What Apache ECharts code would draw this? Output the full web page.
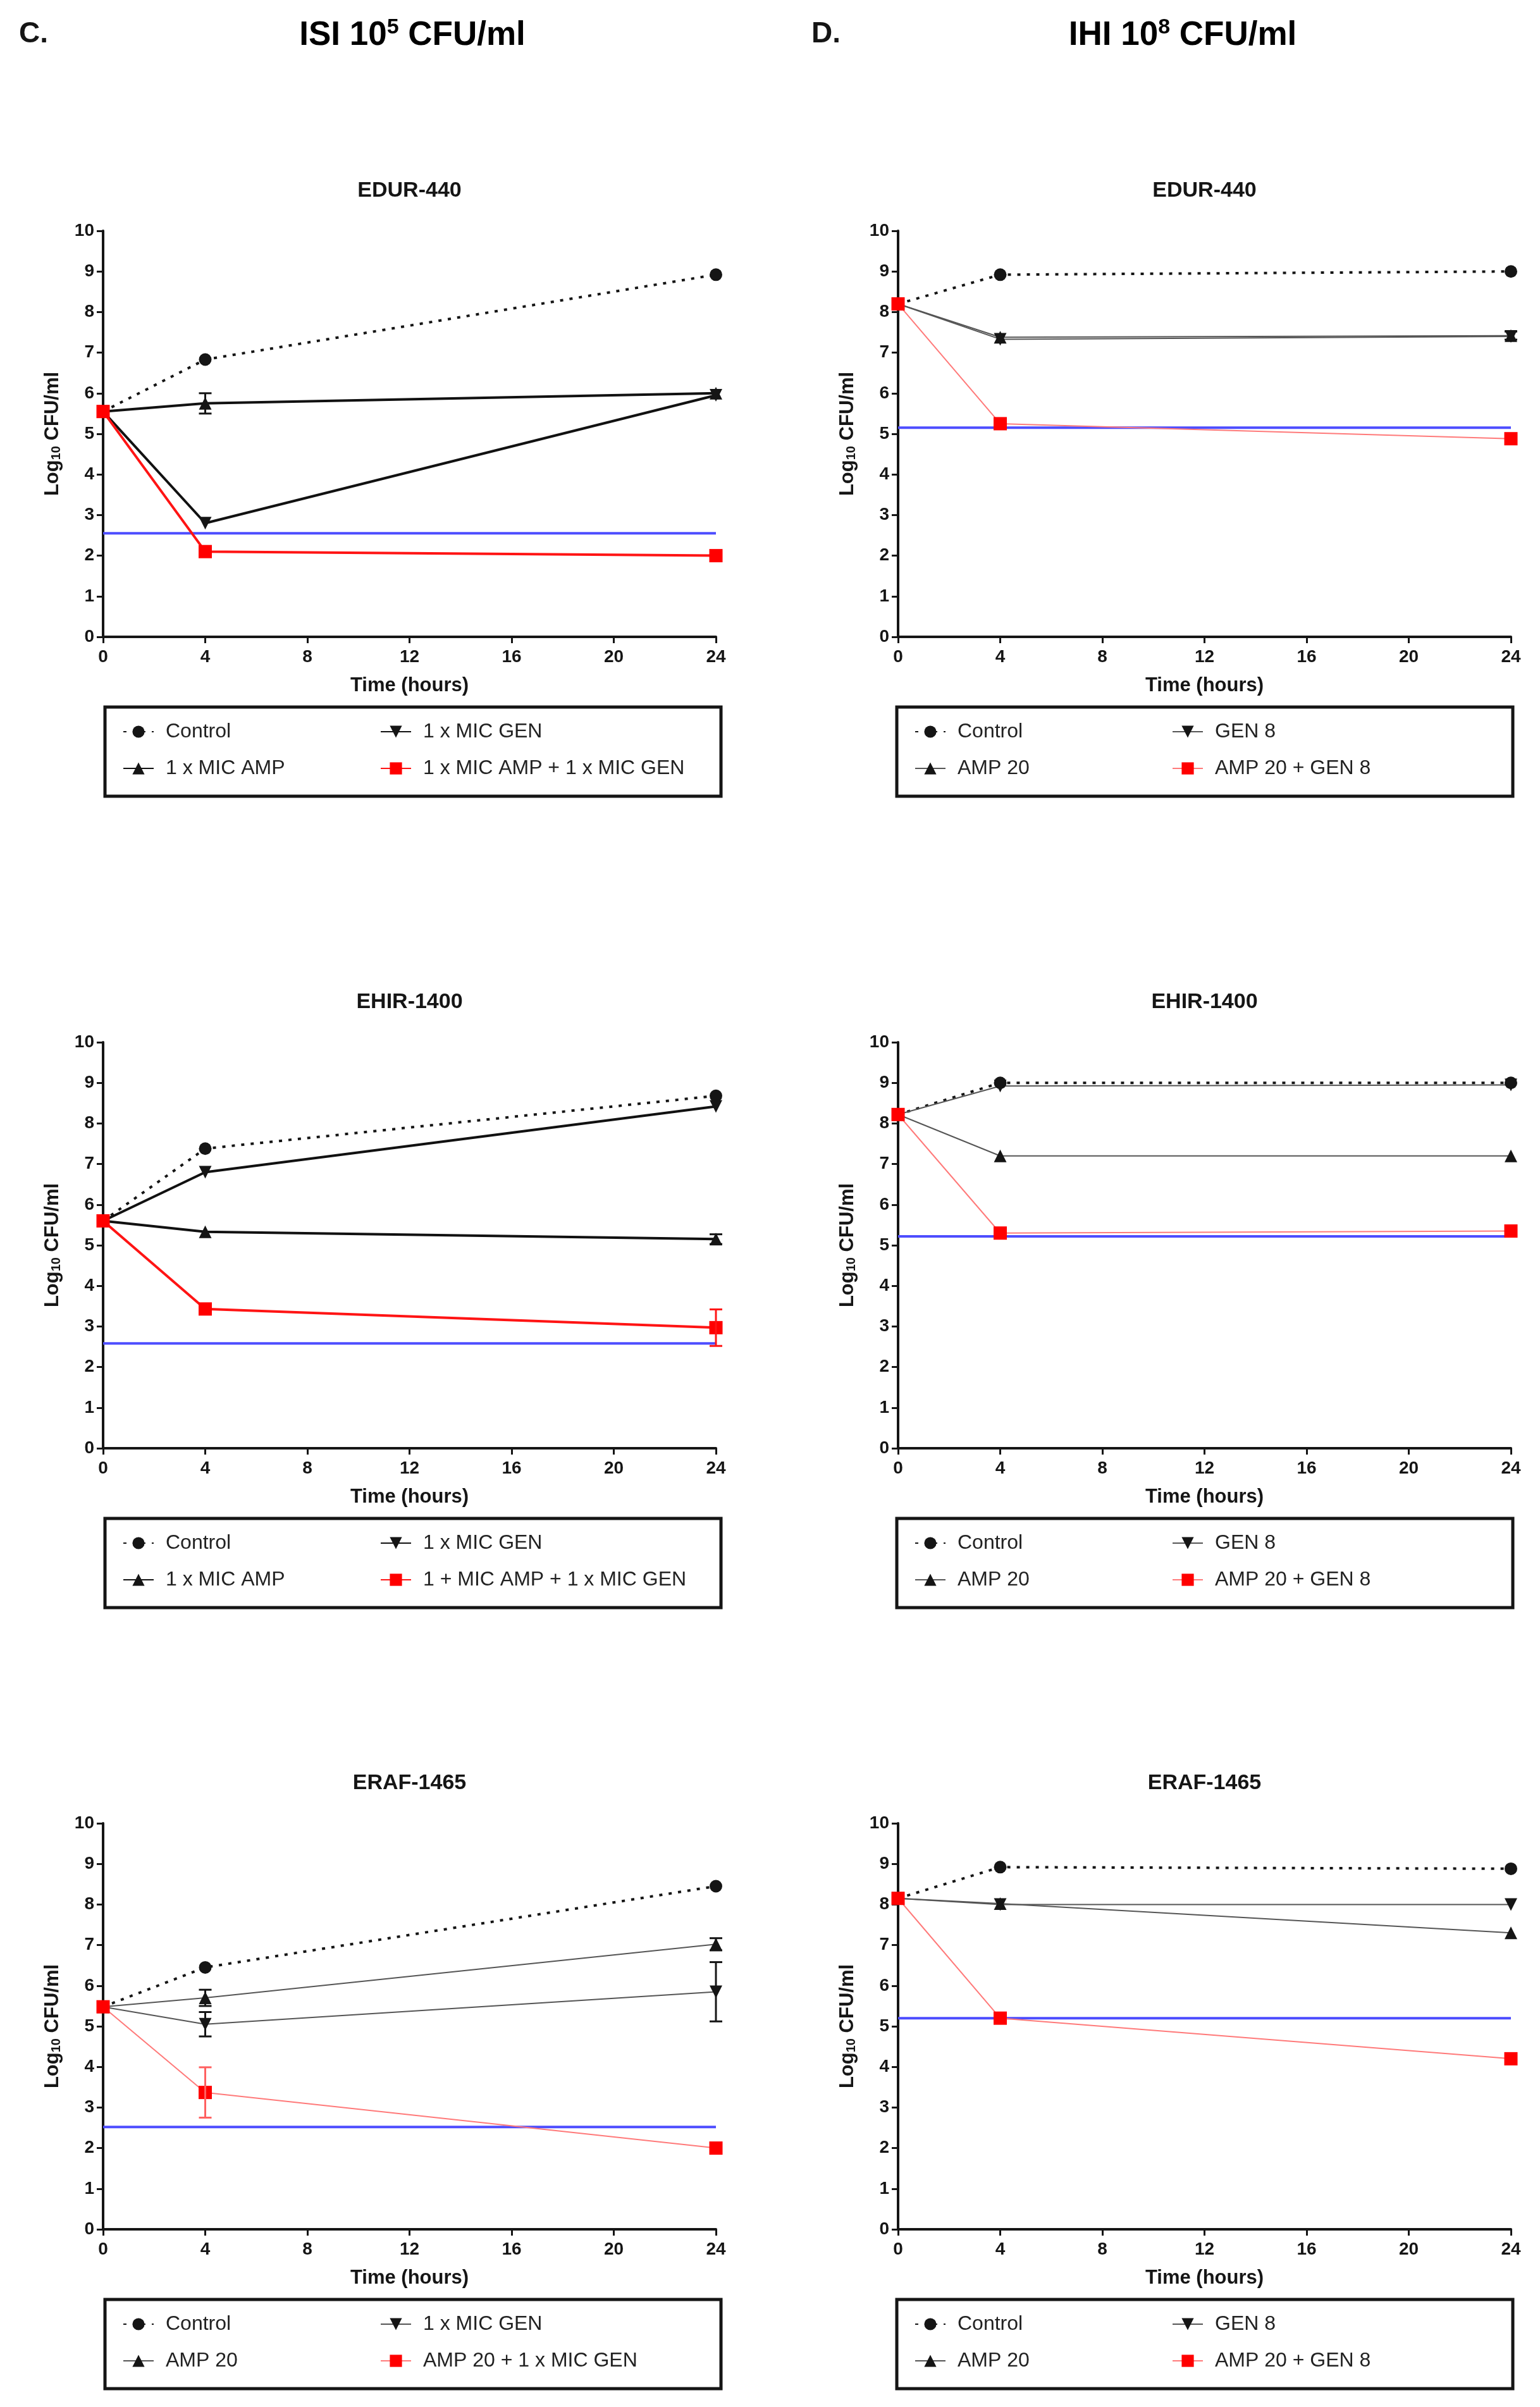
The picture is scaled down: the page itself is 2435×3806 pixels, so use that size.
<!DOCTYPE html>
<html lang="en">
<head>
<meta charset="UTF-8">
<title>Time-kill curves</title>
<script src="https://cdn.jsdelivr.net/npm/echarts@6/dist/echarts.min.js"></script>
<style>
    html, body {
        margin: 0;
        padding: 0;
        background: #fff;
    }
    #chart {
        width: 2435px;
        height: 3806px;
    }
</style>
</head>
<body>
<div id="chart"></div>
<script>
    // sampling times and strains
    var hours = [0, 4, 24];
    var strains = ['EDUR-440', 'EHIR-1400', 'ERAF-1465'];

    // C. ISI 10^5 CFU/ml  (one row per strain)
    var isiControl = [[5.55, 6.83, 8.92], [5.6, 7.38, 8.68], [5.48, 6.45, 8.45]];
    var isiAmp = [[5.55, 5.75, 6.0], [5.6, 5.33, 5.15], [5.48, 5.7, 7.02]];
    var isiAmpSem = [[0, 0.25, 0], [0, 0, 0.12], [0, 0.2, 0.15]];
    var isiGen = [[5.55, 2.8, 5.95], [5.6, 6.8, 8.42], [5.48, 5.05, 5.85]];
    var isiGenSem = [[0, 0, 0], [0, 0, 0], [0, 0.3, 0.73]];
    var isiCombo = [[5.55, 2.1, 2.0], [5.6, 3.43, 2.97], [5.48, 3.37, 2.0]];
    var isiComboSem = [[0, 0, 0], [0, 0, 0.45], [0, 0.62, 0]];
    var isiLod = [2.55, 2.58, 2.52];
    var isiNames = [
        ['Control', '1 x MIC AMP', '1 x MIC GEN', '1 x MIC AMP + 1 x MIC GEN'],
        ['Control', '1 x MIC AMP', '1 x MIC GEN', '1 + MIC AMP + 1 x MIC GEN'],
        ['Control', 'AMP 20', '1 x MIC GEN', 'AMP 20 + 1 x MIC GEN']
    ];

    // D. IHI 10^8 CFU/ml
    var ihiControl = [[8.2, 8.92, 9.0], [8.22, 9.0, 9.0], [8.15, 8.92, 8.88]];
    var ihiAmp = [[8.2, 7.38, 7.42], [8.22, 7.2, 7.2], [8.15, 8.02, 7.3]];
    var ihiAmpSem = [[0, 0, 0.1], [0, 0, 0], [0, 0, 0]];
    var ihiGen = [[8.2, 7.33, 7.4], [8.22, 8.92, 8.95], [8.15, 8.0, 8.0]];
    var ihiGenSem = [[0, 0, 0], [0, 0, 0], [0, 0, 0]];
    var ihiCombo = [[8.2, 5.25, 4.88], [8.22, 5.3, 5.35], [8.15, 5.2, 4.2]];
    var ihiComboSem = [[0, 0, 0], [0, 0, 0], [0, 0, 0]];
    var ihiLod = [5.15, 5.22, 5.2];
    var ihiNames = ['Control', 'AMP 20', 'GEN 8', 'AMP 20 + GEN 8'];

    var FONT = '"Liberation Sans", Arial, sans-serif';
    var INK = '#151515';
    var colLeft = [163, 1420];
    var rowTop = [365, 1648, 2883];
    var gw = 969, gh = 642;

    function pts(vals) {
        return hours.map(function (h, i) { return [h, vals[i]]; });
    }

    function errPts(vals, sem) {
        var out = [];
        hours.forEach(function (h, i) {
            if (sem[i] > 0) out.push([h, vals[i] - sem[i], vals[i] + sem[i]]);
        });
        return out;
    }

    function errRender(params, api) {
        var x = api.value(0);
        var lo = api.coord([x, api.value(1)]);
        var hi = api.coord([x, api.value(2)]);
        var cap = 10;
        var st = {stroke: api.visual('color'), lineWidth: 3};
        return {
            type: 'group',
            children: [
                {type: 'line', shape: {x1: lo[0], y1: lo[1], x2: hi[0], y2: hi[1]}, style: st},
                {type: 'line', shape: {x1: hi[0] - cap, y1: hi[1], x2: hi[0] + cap, y2: hi[1]}, style: st},
                {type: 'line', shape: {x1: lo[0] - cap, y1: lo[1], x2: lo[0] + cap, y2: lo[1]}, style: st}
            ]
        };
    }

    function buildOption() {
        var grids = [], xAxes = [], yAxes = [], series = [], legends = [], graphics = [];

        // column headers
        graphics.push({
            type: 'text', x: 30, y: 54,
            style: {text: 'C.', font: 'bold 46px ' + FONT, fill: INK, verticalAlign: 'middle'}
        });
        graphics.push({
            type: 'text', x: 1283, y: 54,
            style: {text: 'D.', font: 'bold 46px ' + FONT, fill: INK, verticalAlign: 'middle'}
        });
        [['ISI 10', '5', 652], ['IHI 10', '8', 1870]].forEach(function (h) {
            graphics.push({
                type: 'text', x: h[2], y: 56,
                style: {
                    text: '{b|' + h[0] + '}{s|' + h[1] + '}{b| CFU/ml}',
                    align: 'center', verticalAlign: 'middle',
                    rich: {
                        b: {fontSize: 53, fontWeight: 'bold', fontFamily: FONT, color: INK, lineHeight: 58},
                        s: {fontSize: 34, fontWeight: 'bold', fontFamily: FONT, color: INK, verticalAlign: 'top', lineHeight: 30}
                    }
                }
            });
        });

        for (var r = 0; r < 3; r++) {
            for (var c = 0; c < 2; c++) {
                addPanel(r, c);
            }
        }

        function addPanel(r, c) {
            var idx = grids.length;
            var gLeft = colLeft[c], gTop = rowTop[r];
            var bold = (c === 0 && r < 2);
            var names = c === 0 ? isiNames[r] : ihiNames;
            var dControl = c === 0 ? isiControl[r] : ihiControl[r];
            var dAmp = c === 0 ? isiAmp[r] : ihiAmp[r];
            var dAmpSem = c === 0 ? isiAmpSem[r] : ihiAmpSem[r];
            var dGen = c === 0 ? isiGen[r] : ihiGen[r];
            var dGenSem = c === 0 ? isiGenSem[r] : ihiGenSem[r];
            var dCombo = c === 0 ? isiCombo[r] : ihiCombo[r];
            var dComboSem = c === 0 ? isiComboSem[r] : ihiComboSem[r];
            var lod = c === 0 ? isiLod[r] : ihiLod[r];

            var lineCol = bold ? '#111' : '#555';
            var lineW = bold ? 4 : 2;
            var redLine = bold ? '#ff1414' : '#ff7a7a';
            var pre = 'p' + idx + '|';

            grids.push({left: gLeft, top: gTop, width: gw, height: gh, containLabel: false, outerBoundsMode: 'none'});
            xAxes.push({
                gridIndex: idx, type: 'value', min: 0, max: 24, interval: 4,
                name: 'Time (hours)', nameLocation: 'middle', nameGap: 62,
                nameTextStyle: {fontSize: 31, fontWeight: 'bold', fontFamily: FONT, color: INK},
                axisLine: {lineStyle: {color: INK, width: 4}},
                axisTick: {length: 10, lineStyle: {color: INK, width: 3}},
                axisLabel: {fontSize: 28, fontWeight: 'bold', fontFamily: FONT, color: INK, margin: 18},
                splitLine: {show: false}
            });
            yAxes.push({
                gridIndex: idx, type: 'value', min: 0, max: 10, interval: 1,
                name: 'Log{s|10} CFU/ml', nameLocation: 'middle', nameGap: 64,
                nameTextStyle: {
                    fontSize: 31, fontWeight: 'bold', fontFamily: FONT, color: INK,
                    rich: {s: {fontSize: 20, fontWeight: 'bold', fontFamily: FONT, color: INK, verticalAlign: 'bottom', padding: [8, 0, 0, 0]}}
                },
                axisLine: {lineStyle: {color: INK, width: 4}},
                axisTick: {length: 10, lineStyle: {color: INK, width: 3}},
                axisLabel: {fontSize: 28, fontWeight: 'bold', fontFamily: FONT, color: INK, margin: 14},
                splitLine: {show: false}
            });

            // limit of detection
            series.push({
                type: 'line', xAxisIndex: idx, yAxisIndex: idx, name: pre + 'lod',
                data: [[0, lod], [24, lod]], symbol: 'none', silent: true,
                lineStyle: {color: '#4d4dff', width: 4}, z: 2
            });
            series.push({
                type: 'line', xAxisIndex: idx, yAxisIndex: idx, name: pre + names[0],
                data: pts(dControl), symbol: 'circle', symbolSize: 20,
                itemStyle: {color: INK},
                lineStyle: {color: INK, width: 4, type: [5, 10]}, z: 3
            });
            series.push({
                type: 'line', xAxisIndex: idx, yAxisIndex: idx, name: pre + names[1],
                data: pts(dAmp), symbol: 'triangle', symbolSize: 20,
                itemStyle: {color: INK},
                lineStyle: {color: lineCol, width: lineW}, z: 3
            });
            series.push({
                type: 'line', xAxisIndex: idx, yAxisIndex: idx, name: pre + names[2],
                data: pts(dGen), symbol: 'triangle', symbolRotate: 180, symbolSize: 20,
                itemStyle: {color: INK},
                lineStyle: {color: lineCol, width: lineW}, z: 3
            });
            series.push({
                type: 'line', xAxisIndex: idx, yAxisIndex: idx, name: pre + names[3],
                data: pts(dCombo), symbol: 'rect', symbolSize: 21,
                itemStyle: {color: '#ff0000'},
                lineStyle: {color: redLine, width: lineW}, z: 4
            });
            [[dAmp, dAmpSem, INK], [dGen, dGenSem, INK], [dCombo, dComboSem, bold ? '#ff1414' : '#ff6060']].forEach(function (e) {
                var d = errPts(e[0], e[1]);
                if (d.length) {
                    series.push({
                        type: 'custom', xAxisIndex: idx, yAxisIndex: idx, name: pre + 'err',
                        data: d, encode: {x: 0, y: [1, 2]}, renderItem: errRender,
                        itemStyle: {color: e[2]}, z: 5, silent: true
                    });
                }
            });

            // strain title
            graphics.push({
                type: 'text', x: gLeft + gw / 2, y: gTop - 63,
                style: {text: strains[r], font: 'bold 34px ' + FONT, fill: INK, align: 'center', verticalAlign: 'middle'}
            });

            // legend box and its two columns
            var boxX = c === 0 ? 166 : 1418;
            var boxY = gTop + gh + 111;
            graphics.push({
                type: 'rect', shape: {x: boxX, y: boxY, width: 974, height: 141},
                style: {fill: 'none', stroke: INK, lineWidth: 5}
            });
            [[28, [names[0], names[1]]], [435, [names[2], names[3]]]].forEach(function (col) {
                legends.push({
                    orient: 'vertical', padding: 0, itemGap: 24, itemWidth: 48, itemHeight: 24,
                    selectedMode: false,
                    left: boxX + col[0], top: boxY + 22,
                    data: col[1].map(function (n) { return pre + n; }),
                    formatter: function (n) { return n.split('|')[1]; },
                    textStyle: {fontSize: 32, fontFamily: FONT, color: '#222', lineHeight: 34, padding: [0, 0, 0, 14]}
                });
            });
        }

        return {
            backgroundColor: '#fff',
            animation: false,
            grid: grids,
            xAxis: xAxes,
            yAxis: yAxes,
            legend: legends,
            series: series,
            graphic: graphics
        };
    }

    var myChart = echarts.init(document.getElementById('chart'));
    myChart.setOption(buildOption());
</script>
</body>
</html>
